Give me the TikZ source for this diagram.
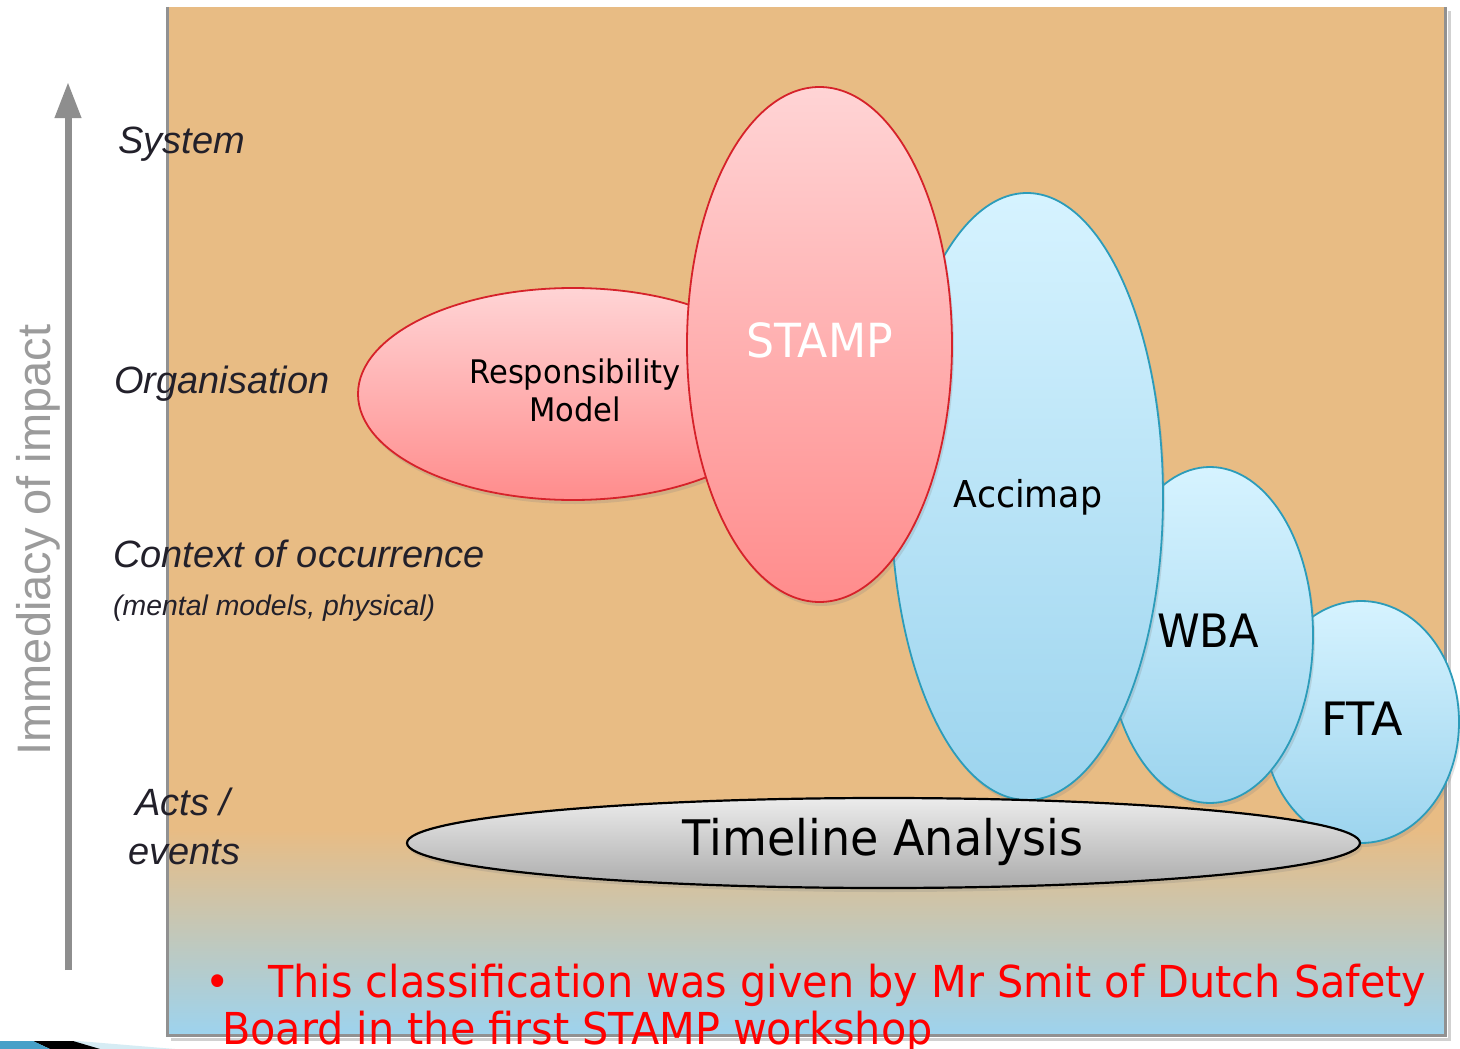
\documentclass[tikz,border=0pt]{standalone}
\usepackage{fontspec}
\setmainfont{DejaVu Sans}
\newfontfamily\lgfont{DejaVu Sans}[FakeStretch=0.94]
\newfontfamily\arialf{Liberation Sans}
\usetikzlibrary{shapes.geometric,shadows,arrows.meta,calc}

\definecolor{sand}{RGB}{232,188,132}
\definecolor{sky}{RGB}{157,211,238}
\definecolor{framegrey}{RGB}{145,145,145}
\definecolor{arrowgrey}{RGB}{142,142,142}
\definecolor{axistext}{RGB}{155,155,155}
\definecolor{levelink}{RGB}{34,32,42}
\definecolor{pinktop}{RGB}{255,212,213}
\definecolor{pinkbot}{RGB}{255,140,140}
\definecolor{pinkedge}{RGB}{214,34,42}
\definecolor{bluetop}{RGB}{214,243,255}
\definecolor{bluebot}{RGB}{156,212,238}
\definecolor{blueedge}{RGB}{44,156,186}
\definecolor{greytop}{RGB}{236,236,236}
\definecolor{greybot}{RGB}{170,170,170}
\definecolor{notered}{RGB}{255,0,0}
\definecolor{swooshlight}{RGB}{214,236,244}
\definecolor{swooshblue}{RGB}{70,160,200}

\tikzset{
  blob/.style={ellipse, inner sep=0pt, line width=1.8pt,
    drop shadow={shadow xshift=2pt, shadow yshift=-4pt, opacity=0.22}},
  pinkblob/.style={blob, draw=pinkedge, top color=pinktop, bottom color=pinkbot},
  blueblob/.style={blob, draw=blueedge, top color=bluetop, bottom color=bluebot},
  greyblob/.style={blob, draw=black, line width=2.2pt, top color=greytop, bottom color=greybot},
  lbl/.style={inner sep=0pt, anchor=base, text=black},
  level/.style={inner sep=0pt, anchor=base west, text=levelink},
  note/.style={inner sep=0pt, anchor=base west, text=notered,
    font=\lgfont\fontsize{44}{48}\selectfont},
  axisarrow/.style={draw=arrowgrey, line width=7pt,
    -{Triangle[length=36pt,width=25pt,fill=arrowgrey]}},
}

\begin{document}
\begin{tikzpicture}[x=1pt,y=-1pt]
\useasboundingbox (0,0) rectangle (1460,1049);
\fill[white] (0,0) rectangle (1460,1049);

% slide corner ornament
\fill[swooshlight] (0,1041) -- (78,1041) -- (175,1049) -- (0,1049) -- cycle;
\fill[black] (33,1041) -- (73,1041) -- (100,1049) -- (50,1049) -- cycle;
\fill[swooshblue] (0,1041) -- (33,1041) -- (50,1049) -- (0,1049) -- cycle;

% panel: shadow, sand field, fade to blue
\draw[black!18, line width=3pt] (171,1039) -- (1449,1039) -- (1449,11);
\fill[sand] (167,7) rectangle (1445,830);
\shade[top color=sand, bottom color=sky] (167,830) rectangle (1445,1035);
\draw[framegrey, line width=3pt] (167,7) -- (167,1035) -- (1445,1035) -- (1445,7);

% vertical axis
\coordinate (arrowfoot) at (68,970);
\coordinate (arrowtip) at (68,82);
\draw[axisarrow] (arrowfoot) -- (arrowtip);
\node[rotate=90, anchor=base, inner sep=0pt, text=axistext,
      font=\arialf\fontsize{47}{47}\selectfont] (axislabel) at (50,540) {Immediacy of impact};

% methods
\node[blueblob, minimum width=196pt, minimum height=242pt] (fta) at (1361,722) {};
\node[blueblob, minimum width=206pt, minimum height=336pt] (wba) at (1210,635) {};
\node[blueblob, minimum width=272pt, minimum height=607pt] (accimap) at (1027,496.5) {};
\node[pinkblob, minimum width=430pt, minimum height=212pt] (resp) at (573,394) {};
\node[pinkblob, minimum width=265pt, minimum height=515pt] (stamp) at (819.5,344.5) {};
\node[greyblob, minimum width=953pt, minimum height=90pt] (timeline) at (883.5,843) {};

% method names
\node[lbl, font=\lgfont\fontsize{32.5}{38}\selectfont] (respA) at (575,383) {Responsibility};
\node[lbl, font=\lgfont\fontsize{32.5}{38}\selectfont] (respB) at (575,421) {Model};
\node[lbl, text=white, font=\lgfont\fontsize{47}{47}\selectfont] (stampT) at (819.5,357) {STAMP};
\node[lbl, font=\lgfont\fontsize{37}{37}\selectfont] (accimapT) at (1028,507) {Accimap};
\node[lbl, font=\lgfont\fontsize{46}{46}\selectfont] (wbaT) at (1208,647) {WBA};
\node[lbl, font=\fontsize{46}{46}\selectfont] (ftaT) at (1362,735) {FTA};
\node[lbl, font=\lgfont\fontsize{49}{49}\selectfont] (timelineT) at (883,855) {Timeline Analysis};

% levels of the axis
\node[level, font=\arialf\itshape\fontsize{38}{38}\selectfont] (sys) at (118,153) {System};
\node[level, font=\arialf\itshape\fontsize{38}{38}\selectfont] (org) at (114,393) {Organisation};
\node[level, font=\arialf\itshape\fontsize{38}{38}\selectfont] (ctx) at (113,567) {Context of occurrence};
\node[level, font=\arialf\itshape\fontsize{28.4}{30}\selectfont] (ctxsub) at (113,615) {(mental models, physical)};
\node[level, font=\arialf\itshape\fontsize{38}{38}\selectfont] (acts) at (135,815) {Acts /};
\node[level, font=\arialf\itshape\fontsize{38}{38}\selectfont] (events) at (128,864) {events};

% remark
\node[note] (bullet) at (205,997) {•};
\node[note] (remarkA) at (268,997) {This classification was given by Mr Smit of Dutch Safety};
\node[note] (remarkB) at (222,1044) {Board in the first STAMP workshop};
\end{tikzpicture}
\end{document}
